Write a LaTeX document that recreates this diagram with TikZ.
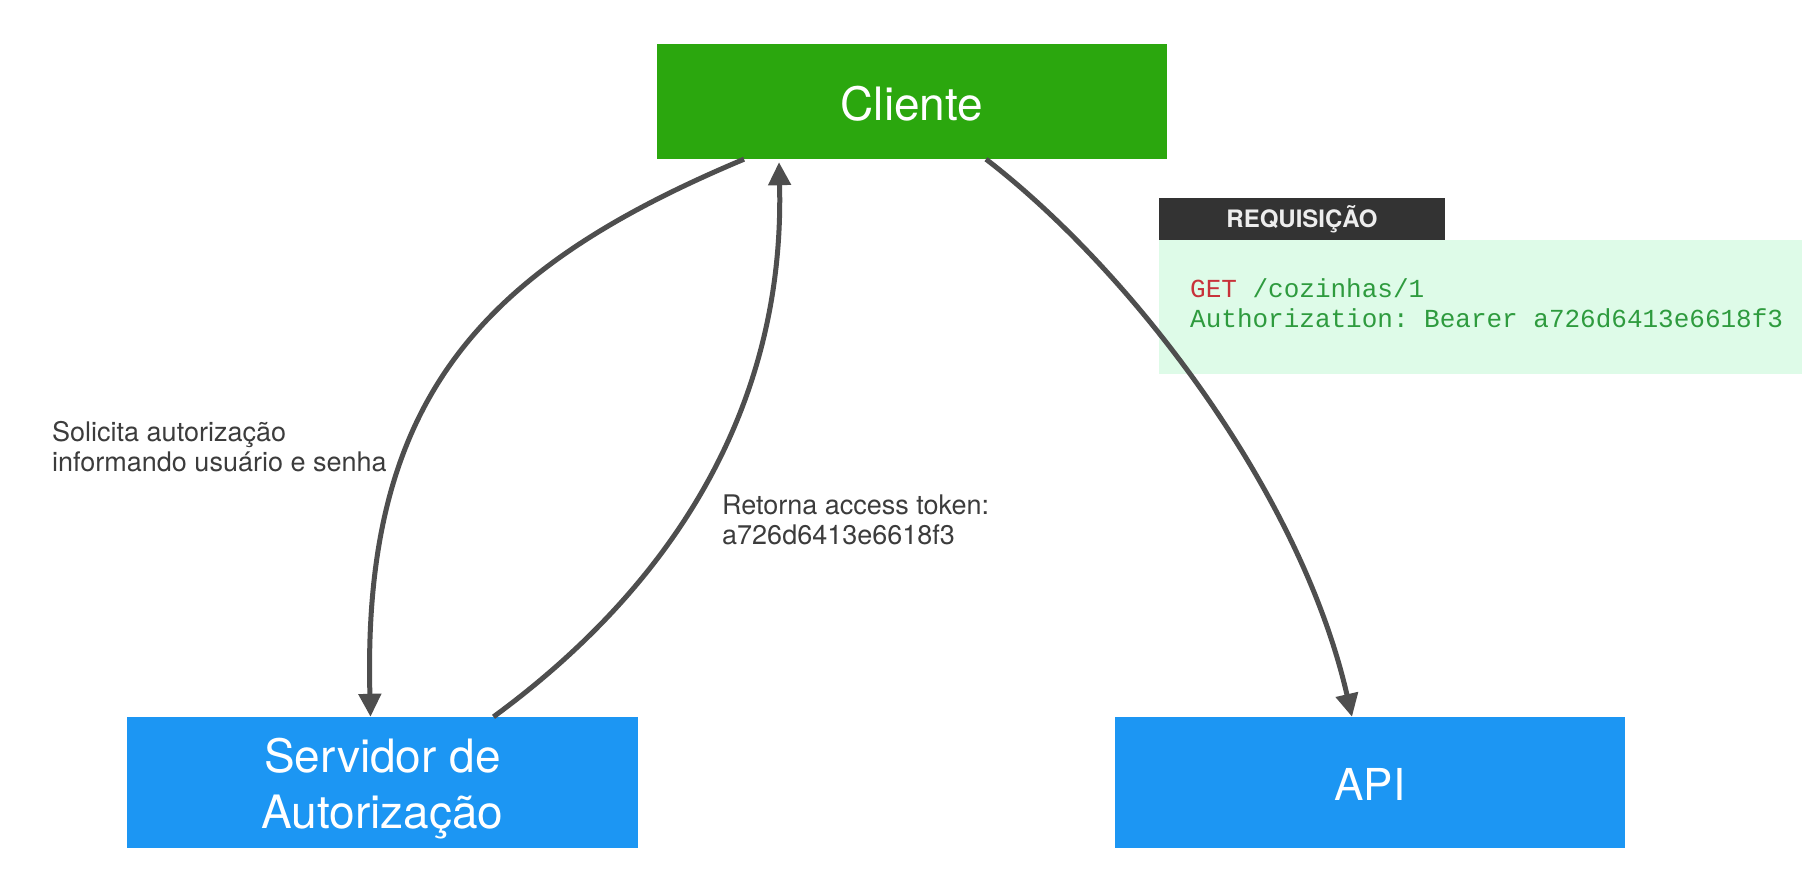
\documentclass[tikz,border=0pt]{standalone}
\usepackage{fontspec}
\setmainfont{TeX Gyre Heros}
\setmonofont{Liberation Mono}
\usetikzlibrary{arrows.meta}
\definecolor{cligreen}{RGB}{43,167,14}
\definecolor{srvblue}{RGB}{28,150,243}
\definecolor{arrowgray}{RGB}{78,78,78}
\definecolor{labelgray}{RGB}{60,60,60}
\definecolor{darkbox}{RGB}{51,51,51}
\definecolor{codebg}{RGB}{222,251,232}
\definecolor{codered}{RGB}{200,50,58}
\definecolor{codegreen}{RGB}{46,155,62}
\tikzset{
  bigbox/.style={rectangle, inner sep=0pt, minimum width=510pt, text=white, align=center,
    font=\fontsize{46}{56}\selectfont},
  conn/.style={draw=arrowgray, line width=5pt, -{Triangle[length=23pt,width=22pt]}},
  lbl/.style={inner sep=0pt, align=left, text=labelgray, font=\fontsize{27}{30}\selectfont},
}
\begin{document}
\begin{tikzpicture}[x=1pt,y=-1pt]
\useasboundingbox[fill=white] (0,0) rectangle (1815,894);

\node[bigbox, fill=cligreen, minimum height=115pt] (cli) at (912,101.5) {\rule{0pt}{38pt}Cliente};
\node[bigbox, fill=srvblue, minimum width=511pt, minimum height=131pt] (srv) at (382.5,782.5) {\rule{0pt}{46pt}Servidor de\\Autorização};
\node[bigbox, fill=srvblue, minimum height=131pt, font=\fontsize{44}{54}\selectfont] (api) at (1370,782.5) {\rule{0pt}{36pt}API};

\node[rectangle, fill=darkbox, minimum width=286pt, minimum height=42pt, inner sep=0pt,
  text=white!93!black, font=\fontsize{24}{28}\selectfont\bfseries] (req) at (1302,219) {REQUISIÇÃO};
\node[rectangle, fill=codebg, minimum width=643pt, minimum height=134pt, inner sep=0pt] (code) at (1480.5,307) {};
\node[anchor=base west, inner sep=0pt, align=left, font=\fontsize{26}{30}\ttfamily, text=codegreen] (codetxt) at (1190,327)
  {\textcolor{codered}{GET} /cozinhas/1\\Authorization: Bearer a726d6413e6618f3};

\node[lbl, anchor=north west] (l1) at (52,421) {Solicita autorização\\informando usuário e senha};
\node[lbl, anchor=north west] (l2) at (722,495) {Retorna access token:\\a726d6413e6618f3};

\draw[conn] ([xshift=-168pt]cli.south) .. controls (480,270) and (362,400) .. ([xshift=-12pt]srv.north);
\draw[conn] ([xshift=111pt]srv.north) .. controls (680,580) and (785,400) .. ([xshift=-133pt,yshift=-3pt]cli.south);
\draw[conn] ([xshift=74pt]cli.south) .. controls (1130,270) and (1300,490) .. ([xshift=-18pt]api.north);
\end{tikzpicture}
\end{document}
